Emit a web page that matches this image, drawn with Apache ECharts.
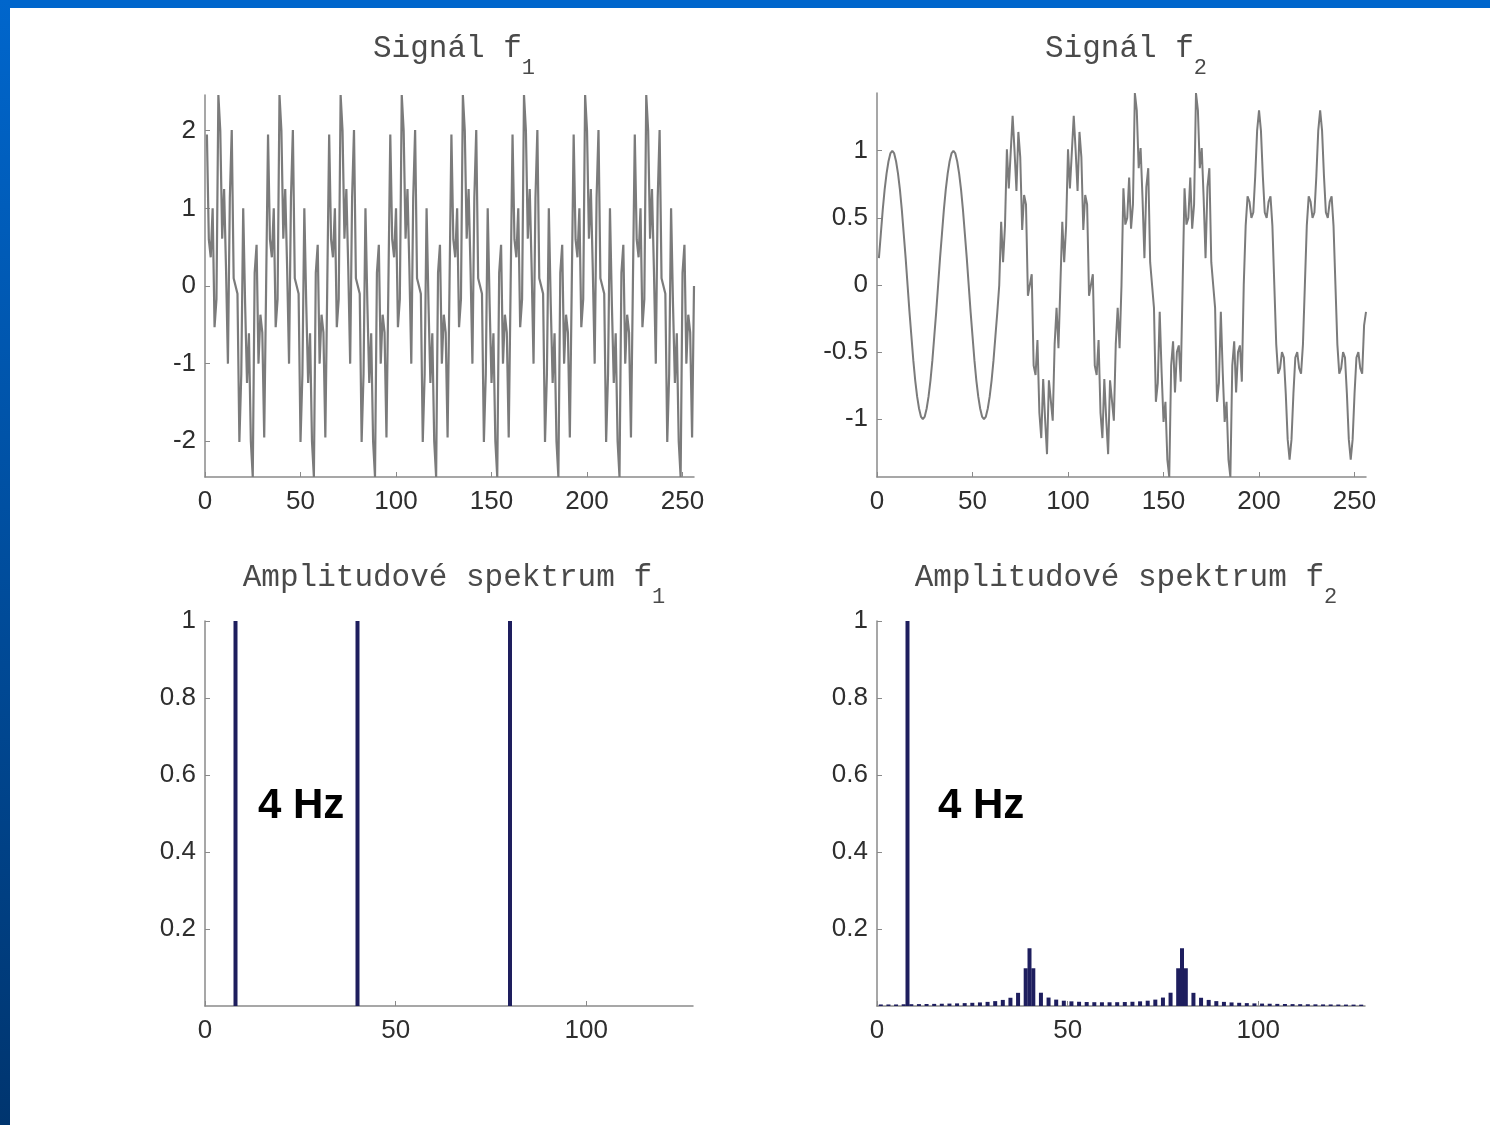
<!DOCTYPE html>
<html>
<head>
<meta charset="utf-8">
<title>Signál a amplitudové spektrum</title>
<script src="https://cdn.jsdelivr.net/npm/echarts@6.0.0/dist/echarts.min.js"></script>
<style>
html, body { margin: 0; padding: 0; background: #fff; }
#chart { position: absolute; left: 0; top: 0; width: 1490px; height: 1125px; }
.band-top { position: absolute; left: 0; top: 0; width: 1490px; height: 8px; background: #0066cc; }
.band-left { position: absolute; left: 0; top: 0; width: 10px; height: 1125px; background: linear-gradient(#0066cc, #00356f); }
</style>
</head>
<body>
<div id="chart"></div>
<div class="band-top"></div>
<div class="band-left"></div>
<script>
// samples 1..256 of signal f1
const f1 = [
  1.95, 0.60, 0.37, 1.00, -0.53, -0.17, 2.46, 2.00, 0.61, 1.25, 0.23, -1.00, 1.13, 2.01, 0.10, 0, -0.10, -2.01, -1.13, 1.00, -0.23, -1.25, -0.61, -2.00, -2.46, 0.17, 0.53, -1.00, -0.37, -0.60, -1.95, 0,
  1.95, 0.60, 0.37, 1.00, -0.53, -0.17, 2.46, 2.00, 0.61, 1.25, 0.23, -1.00, 1.13, 2.01, 0.10, 0, -0.10, -2.01, -1.13, 1.00, -0.23, -1.25, -0.61, -2.00, -2.46, 0.17, 0.53, -1.00, -0.37, -0.60, -1.95, 0,
  1.95, 0.60, 0.37, 1.00, -0.53, -0.17, 2.46, 2.00, 0.61, 1.25, 0.23, -1.00, 1.13, 2.01, 0.10, 0, -0.10, -2.01, -1.13, 1.00, -0.23, -1.25, -0.61, -2.00, -2.46, 0.17, 0.53, -1.00, -0.37, -0.60, -1.95, 0,
  1.95, 0.60, 0.37, 1.00, -0.53, -0.17, 2.46, 2.00, 0.61, 1.25, 0.23, -1.00, 1.13, 2.01, 0.10, 0, -0.10, -2.01, -1.13, 1.00, -0.23, -1.25, -0.61, -2.00, -2.46, 0.17, 0.53, -1.00, -0.37, -0.60, -1.95, 0,
  1.95, 0.60, 0.37, 1.00, -0.53, -0.17, 2.46, 2.00, 0.61, 1.25, 0.23, -1.00, 1.13, 2.01, 0.10, 0, -0.10, -2.01, -1.13, 1.00, -0.23, -1.25, -0.61, -2.00, -2.46, 0.17, 0.53, -1.00, -0.37, -0.60, -1.95, 0,
  1.95, 0.60, 0.37, 1.00, -0.53, -0.17, 2.46, 2.00, 0.61, 1.25, 0.23, -1.00, 1.13, 2.01, 0.10, 0, -0.10, -2.01, -1.13, 1.00, -0.23, -1.25, -0.61, -2.00, -2.46, 0.17, 0.53, -1.00, -0.37, -0.60, -1.95, 0,
  1.95, 0.60, 0.37, 1.00, -0.53, -0.17, 2.46, 2.00, 0.61, 1.25, 0.23, -1.00, 1.13, 2.01, 0.10, 0, -0.10, -2.01, -1.13, 1.00, -0.23, -1.25, -0.61, -2.00, -2.46, 0.17, 0.53, -1.00, -0.37, -0.60, -1.95, 0,
  1.95, 0.60, 0.37, 1.00, -0.53, -0.17, 2.46, 2.00, 0.61, 1.25, 0.23, -1.00, 1.13, 2.01, 0.10, 0, -0.10, -2.01, -1.13, 1.00, -0.23, -1.25, -0.61, -2.00, -2.46, 0.17, 0.53, -1.00, -0.37, -0.60, -1.95, 0
];

// samples 1..256 of signal f2 (top-right plot)
const f2 = [
  0.20, 0.38, 0.56, 0.71, 0.83, 0.92, 0.98, 1.00, 0.98, 0.92, 0.83, 0.71, 0.56, 0.38, 0.20, 0, -0.20, -0.38, -0.56, -0.71, -0.83, -0.92, -0.98, -1.00, -0.98, -0.92, -0.83, -0.71, -0.56, -0.38, -0.20, 0,
  0.20, 0.38, 0.56, 0.71, 0.83, 0.92, 0.98, 1.00, 0.98, 0.92, 0.83, 0.71, 0.56, 0.38, 0.20, 0, -0.20, -0.38, -0.56, -0.71, -0.83, -0.92, -0.98, -1.00, -0.98, -0.92, -0.83, -0.71, -0.56, -0.38, -0.20, 0,
  0.47, 0.17, 0.44, 1.01, 0.72, 0.71, 1.26, 1.00, 0.70, 1.14, 0.95, 0.41, 0.67, 0.60, -0.08, 0, 0.08, -0.60, -0.67, -0.41, -0.95, -1.14, -0.70, -1.00, -1.26, -0.71, -0.72, -1.01, -0.44, -0.17, -0.47, 0,
  0.47, 0.17, 0.44, 1.01, 0.72, 0.71, 1.26, 1.00, 0.70, 1.14, 0.95, 0.41, 0.67, 0.60, -0.08, 0, 0.08, -0.60, -0.67, -0.41, -0.95, -1.14, -0.70, -1.00, -1.26, -0.71, -0.72, -1.01, -0.44, -0.17, -0.47, 0,
  0.72, 0.45, 0.50, 0.80, 0.42, 0.60, 1.43, 1.30, 0.87, 1.02, 0.65, 0.20, 0.73, 0.87, 0.17, 0, -0.17, -0.87, -0.73, -0.20, -0.65, -1.02, -0.87, -1.30, -1.43, -0.60, -0.42, -0.80, -0.50, -0.45, -0.72, 0,
  0.72, 0.45, 0.50, 0.80, 0.42, 0.60, 1.43, 1.30, 0.87, 1.02, 0.65, 0.20, 0.73, 0.87, 0.17, 0, -0.17, -0.87, -0.73, -0.20, -0.65, -1.02, -0.87, -1.30, -1.43, -0.60, -0.42, -0.80, -0.50, -0.45, -0.72, 0,
  0.44, 0.66, 0.62, 0.50, 0.54, 0.81, 1.15, 1.30, 1.15, 0.81, 0.54, 0.50, 0.62, 0.66, 0.44, 0, -0.44, -0.66, -0.62, -0.50, -0.54, -0.81, -1.15, -1.30, -1.15, -0.81, -0.54, -0.50, -0.62, -0.66, -0.44, 0,
  0.44, 0.66, 0.62, 0.50, 0.54, 0.81, 1.15, 1.30, 1.15, 0.81, 0.54, 0.50, 0.62, 0.66, 0.44, 0, -0.44, -0.66, -0.62, -0.50, -0.54, -0.81, -1.15, -1.30, -1.15, -0.81, -0.54, -0.50, -0.62, -0.66, -0.30, -0.20
];

// amplitude spectrum f1: only three lines
const spec1Bins = [8, 40, 80];
const spec1Amp = [1, 1, 1];

// amplitude spectrum f2, bins 0..127
const spec2Amp = [
  0, 0.004, 0, 0.004, 0, 0.004, 0, 0.0045, 1, 0.0047, 0, 0.0049, 0, 0.0052, 0, 0.0055,
  0, 0.0059, 0, 0.0063, 0, 0.0068, 0, 0.0075, 0, 0.0083, 0, 0.0093, 0, 0.0107, 0, 0.0127,
  0, 0.0158, 0, 0.0214, 0, 0.0342, 0, 0.098, 0.15, 0.098, 0, 0.0345, 0, 0.0219, 0, 0.0166,
  0, 0.0138, 0, 0.0121, 0, 0.011, 0, 0.0103, 0, 0.0099, 0, 0.0097, 0, 0.0097, 0, 0.0099,
  0, 0.0103, 0, 0.011, 0, 0.0121, 0, 0.0138, 0, 0.0166, 0, 0.0219, 0, 0.0345, 0, 0.098,
  0.15, 0.098, 0, 0.0342, 0, 0.0214, 0, 0.0158, 0, 0.0127, 0, 0.0107, 0, 0.0093, 0, 0.0083,
  0, 0.0075, 0, 0.0068, 0, 0.0063, 0, 0.0059, 0, 0.0055, 0, 0.0052, 0, 0.0049, 0, 0.0047,
  0, 0.0045, 0, 0.0043, 0, 0.0041, 0, 0.004, 0, 0.0038, 0, 0.0037, 0, 0.0036, 0, 0.0035
];

const signalTicks = [0, 50, 100, 150, 200, 250];
const spectrumTicks = [0, 50, 100];
const f1Ticks = [-2, -1, 0, 1, 2];
const f2Ticks = [-1, -0.5, 0, 0.5, 1];
const ampTicks = [0.2, 0.4, 0.6, 0.8, 1];

const axisGray = '#8a8a8a';
const labelColor = '#2e2e2e';
const lineGray = '#7b7b7b';
const barNavy = '#1e1e5e';

function valueAxis(gridIndex, min, max, ticks, margin) {
  return {
    type: 'value',
    gridIndex: gridIndex,
    min: min,
    max: max,
    axisLine: { show: true, onZero: false, lineStyle: { color: axisGray, width: 1.5 } },
    axisTick: { show: true, inside: true, length: 5, customValues: ticks, lineStyle: { color: axisGray } },
    axisLabel: {
      customValues: ticks,
      color: labelColor,
      fontSize: 26,
      fontFamily: 'Liberation Sans',
      margin: margin,
    },
    splitLine: { show: false },
  };
}

function plotTitle(main, sub, cx, top) {
  const font = 'Liberation Mono';
  return {
    text: '{t|' + main + '}{s|' + sub + '}',
    left: cx,
    top: top,
    textAlign: 'center',
    textStyle: {
      fontWeight: 'normal',
      rich: {
        t: { fontFamily: font, fontWeight: 'normal', fontSize: 31, color: '#4a4a4a', lineHeight: 36, verticalAlign: 'top' },
        s: { fontFamily: font, fontWeight: 'normal', fontSize: 22, color: '#4a4a4a', lineHeight: 26, verticalAlign: 'top', padding: [24, 0, 0, 0] },
      },
    },
  };
}

const myChart = echarts.init(document.getElementById('chart'));

const option = {
  backgroundColor: '#fff',
  animation: false,
  title: [
    plotTitle('Signál f', '1', 449, 28),
    plotTitle('Signál f', '2', 1121, 28),
    plotTitle('Amplitudové spektrum f', '1', 449, 557),
    plotTitle('Amplitudové spektrum f', '2', 1121, 557),
  ],
  grid: [
    { left: 205, top: 95, width: 489, height: 382 },
    { left: 877, top: 93, width: 489, height: 384 },
    { left: 205, top: 621, width: 488, height: 385 },
    { left: 877, top: 621, width: 488, height: 385 },
  ],
  xAxis: [
    valueAxis(0, 0, 256, signalTicks, 12),
    valueAxis(1, 0, 256, signalTicks, 12),
    valueAxis(2, 0, 128, spectrumTicks, 12),
    valueAxis(3, 0, 128, spectrumTicks, 12),
  ],
  yAxis: [
    valueAxis(0, -2.46, 2.46, f1Ticks, 9),
    valueAxis(1, -1.43, 1.43, f2Ticks, 9),
    valueAxis(2, 0, 1, ampTicks, 9),
    valueAxis(3, 0, 1, ampTicks, 9),
  ],
  series: [
    {
      type: 'line',
      xAxisIndex: 0,
      yAxisIndex: 0,
      showSymbol: false,
      lineStyle: { color: lineGray, width: 2.2 },
      data: f1.map((v, i) => [i + 1, v]),
    },
    {
      type: 'line',
      xAxisIndex: 1,
      yAxisIndex: 1,
      showSymbol: false,
      lineStyle: { color: lineGray, width: 2 },
      data: f2.map((v, i) => [i + 1, v]),
    },
    {
      type: 'bar',
      xAxisIndex: 2,
      yAxisIndex: 2,
      barWidth: 4,
      itemStyle: { color: barNavy },
      data: spec1Bins.map((b, i) => [b, spec1Amp[i]]),
    },
    {
      type: 'bar',
      xAxisIndex: 3,
      yAxisIndex: 3,
      barWidth: 4,
      itemStyle: { color: barNavy },
      data: spec2Amp.map((v, k) => [k, v]),
    },
  ],
  graphic: [
    { type: 'text', left: 258, top: 785, style: { text: '4 Hz', font: 'bold 42px "Liberation Sans"', fill: '#000' } },
    { type: 'text', left: 938, top: 785, style: { text: '4 Hz', font: 'bold 42px "Liberation Sans"', fill: '#000' } },
  ],
};

myChart.setOption(option);
</script>
</body>
</html>
